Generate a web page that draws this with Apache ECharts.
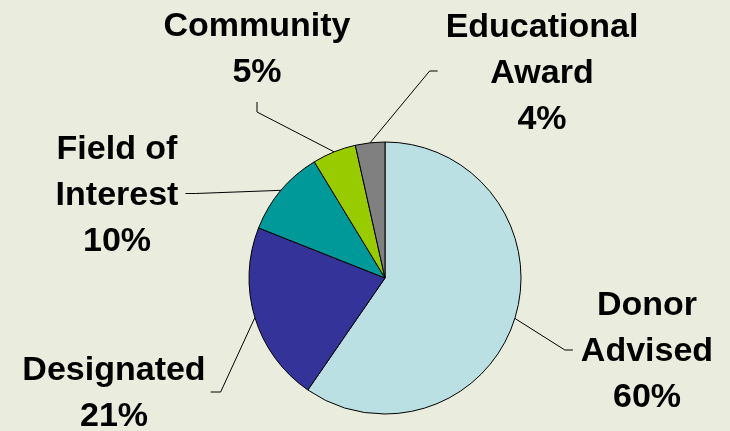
<!DOCTYPE html>
<html><head><meta charset="utf-8">
<script src="https://cdn.jsdelivr.net/npm/echarts@6/dist/echarts.min.js"></script>
<style>html,body{margin:0;padding:0;background:#EAEDDE}#c{width:730px;height:431px}</style>
</head><body><div id="c"></div>
<script>
// Data
const categories = ['Donor\nAdvised', 'Designated', 'Field of\nInterest', 'Community', 'Educational\nAward'];
const values = [59.6, 21.4, 10.3, 5.2, 3.5];
const colors = ['#BBE0E3', '#333399', '#009999', '#99CC00', '#808080'];

// Label placement (layout only)
const labelPlacement = [
  { x: 647, y: 351.5, side: 'left', gap: 8, tick: 8, dy: -1.5 },
  { x: 114, y: 393.5, side: 'right', gap: 5, tick: 10, dy: -1.5 },
  { x: 117, y: 196, side: 'right', gap: 7, tick: 10, dy: -2.5 },
  { x: 257, y: 49.5, side: 'bottom', gap: 6.5, tick: 10, dy: 0 },
  { x: 542, y: 73.5, side: 'left', gap: 8, tick: 8, dy: -2.5 }
];

const chart = echarts.init(document.getElementById('c'), null, { renderer: 'canvas' });
chart.setOption({
  backgroundColor: '#EAEDDE',
  animation: false,
  series: [{
    type: 'pie',
    center: [385, 278],
    radius: 136,
    startAngle: 90,
    clockwise: true,
    avoidLabelOverlap: false,
    percentPrecision: 0,
    emphasis: { disabled: true },
    itemStyle: { borderColor: '#000', borderWidth: 1 },
    label: {
      show: true,
      position: 'outside',
      formatter: '{b}\n{d}%',
      color: '#000',
      fontFamily: '"Liberation Sans", Arial, sans-serif',
      fontWeight: 'bold',
      fontSize: 34,
      lineHeight: 46
    },
    labelLine: {
      show: true,
      length: 10,
      length2: 10,
      lineStyle: { color: '#000', width: 1 }
    },
    labelLayout: function (p) {
      const pl = labelPlacement[p.dataIndex];
      const w = p.labelRect.width, h = p.labelRect.height;
      const res = { x: pl.x, y: pl.y, align: 'center', verticalAlign: 'middle' };
      const start = p.labelLinePoints && p.labelLinePoints[0];
      if (start) {
        let near, turn;
        const ly = pl.y + pl.dy;
        if (pl.side === 'left') {
          const e = pl.x - w / 2 - pl.gap;
          near = [e, ly]; turn = [e - pl.tick, ly];
        } else if (pl.side === 'right') {
          const e = pl.x + w / 2 + pl.gap;
          near = [e, ly]; turn = [e + pl.tick, ly];
        } else {
          const e = pl.y + h / 2 + pl.gap;
          near = [pl.x, e]; turn = [pl.x, e + pl.tick];
        }
        res.labelLinePoints = [start, turn, near];
      }
      return res;
    },
    data: categories.map((c, i) => ({ name: c, value: values[i], itemStyle: { color: colors[i] } }))
  }]
});
</script>
</body></html>
